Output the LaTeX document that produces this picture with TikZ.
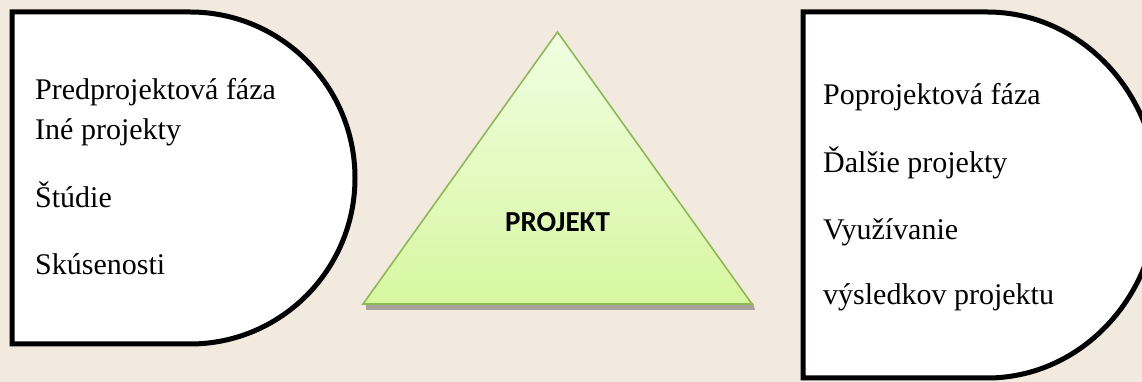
\documentclass[tikz,border=0pt]{standalone}
\usepackage{fontspec}
\setmainfont{Liberation Serif}
\newfontfamily\projfont{Carlito}
\definecolor{PhaseBg}{HTML}{F2E9DF}
\definecolor{ProjGreen}{HTML}{8DB955}
\definecolor{ProjTop}{HTML}{F0FEE2}
\definecolor{ProjBottom}{HTML}{D7F7A0}
\definecolor{ProjShadow}{HTML}{A9A299}

\begin{document}
\begin{tikzpicture}[
  x=1pt,y=1pt,
  phase/.style={draw=black,line width=5pt,fill=white,line join=miter},
  item/.style={anchor=base west,inner sep=0pt,font=\fontsize{30}{36}\selectfont},
  core/.style={anchor=base,inner sep=0pt,font=\projfont\bfseries\fontsize{29}{34}\selectfont},
  edge/.style={draw=ProjGreen,line width=1.6pt,line join=miter}
]
\fill[PhaseBg] (0,0) rectangle (1142,382);
\useasboundingbox (0,0) rectangle (1142,382);
\clip (0,0) rectangle (1142,382);
% before the project
\path[phase] (190,370) -- (12,370) -- (12,38) -- (190,38)
  arc[start angle=-90,end angle=90,x radius=165pt,y radius=166pt] -- cycle;
\node[item] (pre1) at (35,282) {Predprojektová fáza};
\node[item] (pre2) at (35,242) {Iné projekty};
\node[item] (pre3) at (35,174) {Štúdie};
\node[item] (pre4) at (35,107) {Skúsenosti};
% the project
\fill[ProjShadow] (366,79) -- (753,79) -- (755,72) -- (366,72) -- cycle;
\shade[top color=ProjTop,bottom color=ProjBottom] (363,78) -- (752,78) -- (557.5,350) -- cycle;
\path[edge] (363,78) -- (752,78) -- (557.5,350) -- cycle;
\node[core] (projekt) at (557.5,150) {PROJEKT};
% after the project
\path[phase] (987,370) -- (803,370) -- (803,4) -- (987,4)
  arc[start angle=-90,end angle=90,x radius=171pt,y radius=183pt] -- cycle;
\node[item] (post1) at (823,277) {Poprojektová fáza};
\node[item] (post2) at (823,209) {Ďalšie projekty};
\node[item] (post3) at (823,142) {Využívanie};
\node[item] (post4) at (823,77) {výsledkov projektu};
\end{tikzpicture}
\end{document}
